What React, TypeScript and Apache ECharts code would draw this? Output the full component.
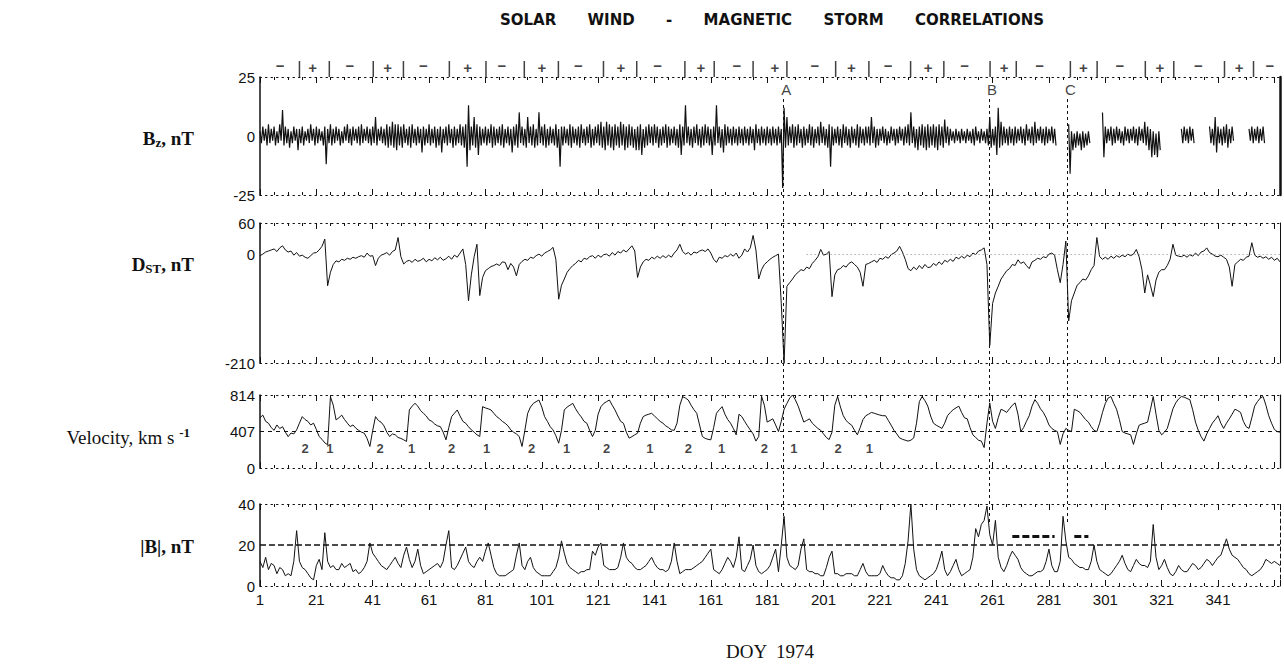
import React, { useEffect, useRef } from "react";
import * as echarts from "echarts";

// ---------------- data (DOY 1974, one value or hi/lo pair per day) ----------------
const DAY_MIN = 1;
const DAY_MAX = 363;
const xTickLabels = [1, 21, 41, 61, 81, 101, 121, 141, 161, 181, 201, 221, 241, 261, 281, 301, 321, 341];

// IMF Bz, nT: daily high and low excursions (null = data gap)
const bzHi: (number | null)[] = [
  2,4,3,5,3,4,2,5,11,4, 3,2,4,3,3,4,2,3,5,3, 4,3,2,4,3,5,3,4,3,2, 4,5,3,4,3,4,5,3,4,3,
  4,8,3,4,3,5,4,6,5,5, 4,5,3,4,5,3,4,3,4,3, 5,3,4,3,4,3,4,5,3,4, 3,5,4,5,13,4,8,5,4,3,
  4,3,5,4,3,4,5,3,4,3, 4,5,10,4,3,8,4,5,3,10, 4,5,3,4,3,5,3,4,4,3, 5,4,3,4,5,3,4,5,3,4,
  5,6,4,6,5,4,5,4,6,5, 4,5,4,3,4,5,3,4,5,4, 5,4,3,4,5,4,3,4,3,5, 4,13,4,3,4,5,3,4,5,4,
  3,4,13,4,3,5,4,3,4,3, 4,3,4,3,4,3,5,3,4,3, 4,3,4,3,4,3,12,8,4,5, 4,5,3,4,3,5,4,3,4,6,
  4,3,5,4,3,4,3,5,4,3, 4,3,5,4,3,4,4,8,4,3, 3,4,3,2,4,3,3,4,3,4, 5,10,4,3,4,5,4,5,4,5,
  4,5,4,7,4,3,2,3,2,3, 2,3,2,3,4,2,3,2,3,8, 3,4,12,6,4,3,4,3,4,3, 4,3,5,3,4,6,3,4,3,4,
  3,4,3,null,null,null,null,5,2,1, 2,1,2,1,2,null,null,null,null,10, 4,3,4,3,4,3,2,4,3,3,
  4,3,4,3,6,4,3,2,1,2, null,null,null,null,null,null,null,3,4,3, 4,3,null,null,null,null,null,4,3,8,
  4,3,4,5,3,4,null,null,null,null, null,3,4,3,4,3,4,null,null,null, null,null,null,
];
const bzLo: (number | null)[] = [
  -3,-2,-4,-3,-2,-4,-3,-2,-4,-3, -5,-3,-2,-6,-3,-4,-2,-3,-2,-4, -3,-2,-4,-12,-3,-4,-3,-2,-4,-3, -2,-3,-4,-2,-3,-4,-3,-2,-3,-4,
  -3,-4,-2,-3,-4,-5,-4,-5,-6,-4, -5,-3,-4,-5,-3,-4,-3,-7,-4,-3, -4,-3,-5,-4,-7,-3,-4,-3,-5,-4, -3,-4,-5,-13,-6,-4,-5,-8,-4,-3,
  -4,-3,-5,-4,-3,-4,-5,-3,-4,-7, -4,-5,-3,-4,-5,-3,-4,-5,-4,-3, -4,-5,-4,-3,-4,-5,-13,-4,-3,-4, -5,-3,-4,-5,-3,-4,-3,-5,-4,-3,
  -4,-5,-6,-4,-5,-6,-4,-5,-4,-6, -5,-4,-5,-6,-6,-8,-5,-4,-3,-4, -3,-5,-4,-3,-5,-4,-3,-4,-5,-8, -4,-3,-4,-5,-3,-4,-5,-4,-3,-4,
  -8,-4,-3,-5,-7,-4,-3,-4,-3,-4, -3,-4,-3,-4,-3,-6,-3,-4,-3,-4, -3,-4,-3,-4,-3,-22,-5,-4,-3,-5, -4,-3,-5,-4,-3,-4,-5,-3,-4,-3,
  -4,-5,-13,-4,-3,-4,-5,-3,-4,-5, -3,-4,-5,-3,-4,-3,-4,-3,-5,-4, -2,-3,-4,-3,-2,-4,-3,-2,-4,-3, -4,-3,-5,-6,-4,-5,-6,-5,-4,-5,
  -6,-4,-5,-3,-4,-2,-3,-2,-3,-2, -3,-2,-3,-4,-2,-3,-2,-3,-4,-5, -4,-8,-5,-4,-3,-4,-3,-4,-3,-2, -3,-4,-2,-3,-4,-3,-2,-3,-4,-3,
  -2,-3,-4,null,null,null,null,-16,-6,-5, -4,-6,-5,-4,-3,null,null,null,null,-9, -3,-2,-4,-3,-2,-3,-4,-2,-3,-2,
  -3,-4,-2,-3,-4,-6,-9,-8,-9,-6, null,null,null,null,null,null,null,-3,-2,-3, -2,-3,null,null,null,null,null,-3,-4,-7,
  -3,-4,-3,-5,-3,-2,null,null,null,null, null,-2,-3,-2,-3,-2,-3,null,null,null, null,null,null,
];

// Dst, nT (daily)
const dst: number[] = [
  -3,0,4,6,8,10,5,12,16,8, 4,6,-2,3,-4,-2,-6,-8,-3,2, 3,8,15,29,-61,-35,-20,-13,-15,-10, -12,-8,-10,-6,-8,-5,-3,-6,2,-4,
  -3,-22,-8,-2,0,3,-2,5,8,32, -5,-19,-14,-12,-16,-10,-14,-12,-8,-15, -10,-13,-7,-11,-6,-12,-9,-4,-10,-2, -6,2,10,-20,-90,-40,-5,19,-80,-45,
  -32,-28,-24,-22,-19,-22,-15,-16,-30,-18, -25,-42,-20,-14,-10,-12,-6,-8,-3,0, -4,2,5,8,13,-10,-87,-60,-48,-35, -28,-22,-18,-12,-15,-8,-10,-5,-3,-8,
  -2,-6,-1,0,-4,3,-2,5,2,8, 4,10,16,6,-45,-25,-15,-10,-12,-6, -9,-4,-8,-3,-7,-2,-6,2,8,19, 5,0,3,-2,4,2,6,8,5,10,
  2,-10,-16,-6,-8,-3,-5,0,-4,2, -8,-2,10,4,12,36,8,-48,-30,-20, -15,-10,-6,-3,0,-95,-210,-62,-55,-48, -40,-35,-30,-32,-25,-28,-18,-12,-5,9,
  -2,0,5,-82,-40,-30,-28,-22,-25,-18, -15,-20,-25,-35,-62,-20,-18,-15,-12,-16, -8,-10,-5,-8,-1,2,6,15,4,-10, -28,-32,-25,-30,-22,-28,-20,-26,-25,-18,
  -22,-15,-20,-12,-15,-10,-14,-6,-9,-4, -8,-2,-5,2,-1,6,8,12,-20,-176, -95,-75,-62,-48,-40,-32,-28,-20,-22,-11, -18,-15,-22,-28,-15,-12,-8,-10,-5,-7,
  0,2,-2,-30,-55,-20,25,-129,-90,-75, -60,-55,-48,-50,-42,-30,-22,32,-5,-10, -6,-10,-4,-8,-3,-6,-2,-5,0,-3,
  0,9,-5,-30,-75,-40,-60,-82,-50,-35, -30,-30,-22,-10,19,-2,-4,-5,-2,-6, -1,-4,2,-3,4,6,12,3,0,-4,
  -5,-2,-6,-10,-25,-62,-20,-15,-10,-12, -6,-4,22,-2,-6,-4,-8,-5,-10,-6, -12,-8,-15,
];

// Solar wind velocity, km/s (daily)
const velocity: number[] = [
  560,590,520,500,450,420,480,440,460,400, 350,390,380,425,500,573,540,520,480,500, 430,351,320,280,260,795,700,536,560,590, 540,500,462,480,444,420,400,388,330,240,
  420,573,530,510,470,400,351,380,370,340, 330,314,296,647,690,721,690,640,610,580, 536,520,490,470,462,400,314,450,573,610, 647,580,520,499,460,425,400,370,351,684,
  670,660,647,610,573,550,520,499,470,425, 400,380,351,240,420,610,680,720,740,758, 680,573,520,460,425,360,277,420,647,680, 700,721,660,610,570,520,499,420,351,420,
  600,684,720,740,758,700,647,580,520,499, 400,333,350,370,388,500,573,590,600,610, 580,550,520,499,470,450,425,420,500,700, 795,780,758,700,650,610,480,351,330,320,
  314,450,610,650,684,600,540,499,440,370, 600,573,520,470,425,380,300,351,800,700, 512,530,548,480,406,520,655,720,780,815, 760,690,600,512,530,548,500,470,441,420,
  380,340,317,400,700,797,680,584,530,500, 477,420,370,450,540,583,600,620,610,600, 590,583,583,530,477,420,380,335,320,310, 300,310,335,500,740,797,750,690,580,500,
  477,460,441,500,583,620,650,670,690,620, 560,548,450,370,340,310,300,228,500,726, 520,441,560,655,640,620,660,700,726,600, 406,450,520,583,690,762,720,660,620,560,
  480,441,420,406,263,380,441,420,406,655, 640,620,580,540,512,460,420,406,500,620, 720,780,797,720,655,540,406,390,380,370,
  263,380,477,490,500,512,650,797,600,420, 370,400,441,550,660,726,770,797,790,775, 762,650,512,420,350,300,380,441,500,540,
  583,500,441,500,548,600,655,640,620,520, 460,441,560,690,740,780,797,700,583,500, 430,406,400,
];

// |B|, nT (daily)
const bMag: number[] = [
  12,9,14,8,11,10,6,9,8,5, 6,5,12,27,12,9,8,6,4,3, 10,13,8,26,12,9,10,8,8,11, 9,10,11,7,8,6,7,9,12,21,
  16,14,12,10,9,8,10,12,14,11, 9,15,19,13,9,12,18,10,6,7, 8,9,10,11,9,12,20,27,9,8, 10,13,16,19,12,10,9,12,14,12,
  17,21,15,9,6,5,5,5,6,7, 8,15,21,10,8,12,14,9,7,6, 5,5,5,5,7,9,14,22,16,11, 9,8,7,6,7,7,8,8,17,15,
  19,21,10,9,8,8,8,9,14,21, 14,12,11,9,8,8,9,10,12,14, 11,9,8,8,7,8,12,21,12,6, 7,8,8,8,9,10,11,12,14,16,
  18,8,7,6,8,11,14,12,9,14, 24,8,7,10,13,20,10,7,6,7, 8,10,14,18,7,20,34,14,10,9, 8,10,18,23,8,7,7,6,6,5,
  5,9,14,17,6,6,5,5,6,6, 6,5,5,8,11,7,5,5,5,5, 6,10,7,5,4,4,3,3,5,11, 22,40,18,8,5,4,3,4,5,6,
  8,12,17,8,5,7,10,13,8,5, 6,7,8,14,28,24,30,32,39,25, 20,32,14,9,7,10,14,17,15,13, 9,7,6,5,5,6,7,7,8,12,
  18,10,7,7,12,34,22,14,13,11, 10,9,9,8,8,12,20,12,8,7, 6,5,6,8,10,12,15,11,8,7,
  10,13,11,10,10,9,12,30,14,8, 10,13,9,6,5,7,10,8,7,7, 9,11,10,8,9,11,13,12,10,12,
  14,15,19,23,18,15,14,13,11,9, 8,6,5,6,7,8,10,13,12,11, 12,11,10,
];

// IMF sector annotations along the top
const sectorBoundaries = [15, 25.6, 41.2, 51.9, 68.2, 81.2, 94.8, 106.9, 122.9, 134.7, 151.8, 162.2, 176, 188, 205.3, 217.1, 231.9, 243.7, 260.1, 269.4, 288.6, 298.1, 315.2, 325.3, 343.3, 353.6];
const sectorMinus = [8.1, 32.9, 59, 86.8, 114, 142.1, 170.2, 197.9, 223.9, 251.1, 277.7, 306.2, 334, 359.4];
const sectorPlus = [19.7, 46.3, 74.7, 101, 129.1, 157.5, 183.7, 210.9, 238.1, 265.1, 293.2, 320.4, 348.5];

// storm events A, B, C
const eventNames = ["A", "B", "C"];
const eventDays = [186.8, 259.8, 287.6];
const eventLabelLevel = 19.5;

// stream type labels in velocity panel
const streamTypes = ["2", "1", "2", "1", "2", "1", "2", "1", "2", "1", "2", "1", "2", "1", "2", "1"];
const streamDays = [17, 25.8, 43.6, 54.8, 69, 81.4, 97.4, 109.8, 124, 139.4, 153, 164.8, 180, 190.5, 206.2, 217.3];
const streamLabelLevel = 220;

// reference levels
const vRef = 407;
const bRef = 20;
const bHighLevel = 24.3;
const bHighSegments = [[268, 283], [290, 295]];
const dstZeroFrom = 195;

// y-axis ranges & tick labels
const bzTicks = [-25, 0, 25];
const dstTicks = [-210, 0, 60];
const vTicks = [0, 407, 814];
const bTicks = [0, 20, 40];

// ---------------- chart ----------------
const SANS = '"Liberation Sans", Arial, sans-serif';
const SERIF = '"Liberation Serif", "Times New Roman", serif';
const INK = "#111";

function buildOption() {
  const days = dst.map((_, i) => i + DAY_MIN);
  const bzData: any[] = [];
  days.forEach((d, i) => {
    bzData.push([d, bzHi[i]]);
    bzData.push([d + 0.5, bzLo[i]]);
  });

  const panels = [
    { top: 77, height: 118, min: -25, max: 25, ticks: bzTicks, rightW: 2.5, rightType: "solid" },
    { top: 223, height: 140, min: -210, max: 60, ticks: dstTicks, rightW: 1, rightType: "solid" },
    { top: 395, height: 73, min: 0, max: 814, ticks: vTicks, rightW: 1.2, rightType: "solid" },
    { top: 504, height: 82, min: 0, max: 40, ticks: bTicks, rightW: 1, rightType: [4, 3] },
  ];

  const grid: any[] = [{ left: 260, right: 4, top: 57, height: 20 }];
  panels.forEach((p) => grid.push({ left: 260, right: 4, top: p.top, height: p.height }));
  grid.push({ left: 260, right: 4, top: 97, height: 425 }); // overlay for event lines

  const xAxis: any[] = [];
  const yAxis: any[] = [];
  xAxis.push({ type: "value", gridIndex: 0, min: DAY_MIN, max: DAY_MAX, show: false });
  yAxis.push({ type: "value", gridIndex: 0, min: 0, max: 1, show: false });

  panels.forEach((p, k) => {
    const gi = k + 1;
    const isLast = k === panels.length - 1;
    const common = {
      type: "value",
      gridIndex: gi,
      min: DAY_MIN,
      max: DAY_MAX,
      interval: 20,
      splitLine: { show: false },
      minorSplitLine: { show: false },
      axisLine: { show: true, onZero: false, lineStyle: { color: INK, width: 1, type: [1.5, 4] } },
      axisTick: { show: true, inside: true, length: 6, lineStyle: { color: INK, width: 1 } },
      minorTick: { show: true, splitNumber: 4, length: 3, lineStyle: { color: INK, width: 1 } },
    };
    xAxis.push({
      ...common,
      position: "bottom",
      axisLabel: {
        show: isLast,
        color: INK,
        fontSize: 15,
        fontFamily: SANS,
        margin: 6,
        showMaxLabel: false,
        formatter: (v: number) => (xTickLabels.indexOf(v) >= 0 ? String(v) : ""),
      },
    });
    xAxis.push({ ...common, position: "top", axisLabel: { show: false } });
    yAxis.push({
      type: "value",
      gridIndex: gi,
      min: p.min,
      max: p.max,
      position: "left",
      splitLine: { show: false },
      axisTick: { show: false },
      axisLine: { show: true, onZero: false, lineStyle: { color: INK, width: 1.5 } },
      axisLabel: { customValues: p.ticks, color: INK, fontSize: 15, fontFamily: SANS, margin: 5 },
    });
    yAxis.push({
      type: "value",
      gridIndex: gi,
      min: p.min,
      max: p.max,
      position: "right",
      splitLine: { show: false },
      axisTick: { show: false },
      axisLabel: { show: false },
      axisLine: { show: true, onZero: false, lineStyle: { color: INK, width: p.rightW, type: p.rightType } },
    });
  });
  xAxis.push({ type: "value", gridIndex: 5, min: DAY_MIN, max: DAY_MAX, show: false });
  yAxis.push({ type: "value", gridIndex: 5, min: 0, max: 1, show: false });

  const xi = (k: number) => 1 + 2 * k;
  const yi = (k: number) => 1 + 2 * k;

  const lineBase = {
    type: "line",
    symbol: "none",
    showSymbol: false,
    connectNulls: false,
    silent: true,
    lineStyle: { color: INK, width: 1 },
  };
  const hiddenPoint = { symbol: "circle", symbolSize: 1, itemStyle: { color: "rgba(0,0,0,0)" } };

  const series: any[] = [
    {
      type: "scatter",
      xAxisIndex: 0,
      yAxisIndex: 0,
      symbol: "rect",
      symbolSize: [1.5, 16],
      itemStyle: { color: INK },
      silent: true,
      data: sectorBoundaries.map((d) => [d, 0.4]),
    },
    {
      type: "scatter",
      xAxisIndex: 0,
      yAxisIndex: 0,
      ...hiddenPoint,
      silent: true,
      label: { show: true, position: "inside", formatter: "{b}", color: INK, fontSize: 15, fontWeight: "bold", fontFamily: SANS },
      data: [
        ...sectorMinus.map((d) => ({ name: "\u2212", value: [d, 0.6] })),
        ...sectorPlus.map((d) => ({ name: "+", value: [d, 0.5] })),
      ],
    },
    { ...lineBase, name: "Bz", xAxisIndex: xi(0), yAxisIndex: yi(0), data: bzData, lineStyle: { color: INK, width: 1.2 } },
    {
      type: "scatter",
      xAxisIndex: xi(0),
      yAxisIndex: yi(0),
      ...hiddenPoint,
      silent: true,
      label: { show: true, position: "inside", formatter: "{b}", color: INK, fontSize: 15, fontFamily: SANS },
      data: eventNames.map((n, i) => ({ name: n, value: [eventDays[i] + 1, eventLabelLevel] })),
    },
    {
      ...lineBase,
      name: "Dst",
      xAxisIndex: xi(1),
      yAxisIndex: yi(1),
      data: days.map((d, i) => [d, dst[i]]),
      markLine: {
        silent: true,
        symbol: ["none", "none"],
        label: { show: false },
        lineStyle: { color: "#888", type: [1, 3], width: 1 },
        data: [[{ coord: [dstZeroFrom, 0] }, { coord: [DAY_MAX, 0] }]],
      },
    },
    {
      ...lineBase,
      name: "Velocity",
      xAxisIndex: xi(2),
      yAxisIndex: yi(2),
      data: days.map((d, i) => [d, velocity[i]]),
      markLine: {
        silent: true,
        symbol: ["none", "none"],
        label: { show: false },
        lineStyle: { color: INK, type: [4, 4], width: 1 },
        data: [{ yAxis: vRef }],
      },
    },
    {
      type: "scatter",
      xAxisIndex: xi(2),
      yAxisIndex: yi(2),
      ...hiddenPoint,
      silent: true,
      label: { show: true, position: "inside", formatter: "{b}", color: INK, fontSize: 13, fontWeight: "bold", fontFamily: SANS },
      data: streamTypes.map((t, i) => ({ name: t, value: [streamDays[i], streamLabelLevel] })),
    },
    {
      ...lineBase,
      name: "B",
      xAxisIndex: xi(3),
      yAxisIndex: yi(3),
      data: days.map((d, i) => [d, bMag[i]]),
      markLine: {
        silent: true,
        symbol: ["none", "none"],
        label: { show: false },
        lineStyle: { color: INK, type: [6, 3], width: 1.6 },
        data: [
          { yAxis: bRef },
          ...bHighSegments.map((s) => [
            { coord: [s[0], bHighLevel], lineStyle: { width: 3, type: [7, 3], color: INK } },
            { coord: [s[1], bHighLevel] },
          ]),
        ],
      },
    },
    {
      type: "scatter",
      xAxisIndex: 9,
      yAxisIndex: 9,
      ...hiddenPoint,
      silent: true,
      data: [[DAY_MIN, 0.5]],
      markLine: {
        silent: true,
        symbol: ["none", "none"],
        label: { show: false },
        lineStyle: { color: INK, type: [3, 3], width: 1 },
        data: eventDays.map((d) => ({ xAxis: d })),
      },
    },
  ];

  const richBold = { fontFamily: SERIF, fontSize: 19, fontWeight: "bold", fill: INK, color: INK };
  const richSub = { fontFamily: SERIF, fontSize: 13, fontWeight: "bold", fill: INK, color: INK, padding: [9, 0, 0, 0] };
  const graphic: any[] = [
    {
      type: "text",
      x: 772,
      y: 20,
      style: {
        text: "SOLAR      WIND      -      MAGNETIC      STORM      CORRELATIONS",
        fontFamily: '"DejaVu Sans", Arial, sans-serif',
        fontWeight: "bold",
        fontSize: 15,
        fill: INK,
        align: "center",
        verticalAlign: "middle",
      },
    },
    {
      type: "text",
      x: 194,
      y: 138,
      style: { text: "{b|B}{s|z}{b|, nT}", rich: { b: richBold, s: richSub }, align: "right", verticalAlign: "middle" },
    },
    {
      type: "text",
      x: 194,
      y: 264,
      style: { text: "{b|D}{s|ST}{b|, nT}", rich: { b: richBold, s: richSub }, align: "right", verticalAlign: "middle" },
    },
    {
      type: "text",
      x: 190,
      y: 437,
      style: {
        text: "{r|Velocity, km s }{p|-1}",
        rich: {
          r: { fontFamily: SERIF, fontSize: 19, fill: INK, color: INK },
          p: { fontFamily: SERIF, fontSize: 13, fontWeight: "bold", fill: INK, color: INK, padding: [0, 0, 9, 0] },
        },
        align: "right",
        verticalAlign: "middle",
      },
    },
    {
      type: "text",
      x: 194,
      y: 546,
      style: { text: "{b||B|, nT}", rich: { b: richBold }, align: "right", verticalAlign: "middle" },
    },
    {
      type: "text",
      x: 770,
      y: 651,
      style: { text: "DOY  1974", fontFamily: SERIF, fontSize: 19, fill: INK, align: "center", verticalAlign: "middle" },
    },
  ];

  return {
    animation: false,
    backgroundColor: "#ffffff",
    tooltip: { show: false },
    grid,
    xAxis,
    yAxis,
    series,
    graphic,
  };
}

export default function App() {
  const ref = useRef<HTMLDivElement>(null);
  useEffect(() => {
    if (!ref.current) return;
    const chart = echarts.init(ref.current, null, { renderer: "svg" });
    chart.setOption(buildOption() as any);
    return () => chart.dispose();
  }, []);
  return (
    <div
      ref={ref}
      style={{ width: 1284, height: 665, position: "absolute", left: 0, top: 0, background: "#fff" }}
    />
  );
}
